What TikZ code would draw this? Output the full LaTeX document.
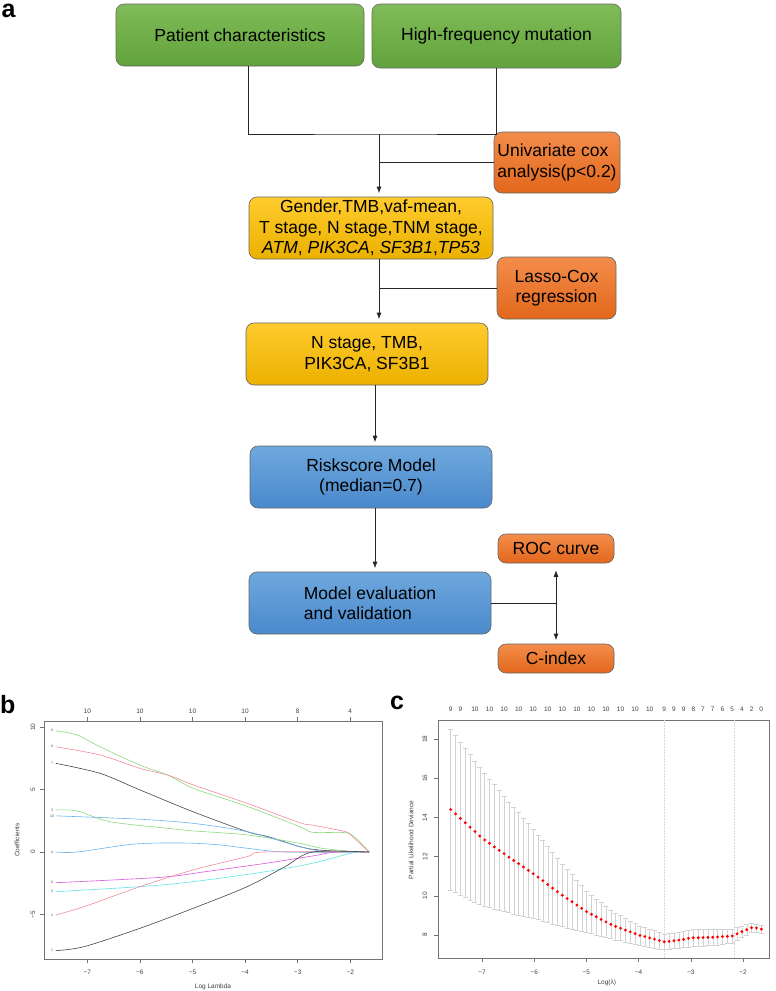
\documentclass[tikz,border=0pt]{standalone}
\usepackage{fontspec}
\setmainfont{Liberation Sans}
\usetikzlibrary{arrows.meta}

\definecolor{grnTop}{HTML}{80BC58}
\definecolor{grnBot}{HTML}{62A23C}
\definecolor{orgTop}{HTML}{F38D4A}
\definecolor{orgBot}{HTML}{E2671C}
\definecolor{ylwTop}{HTML}{FFCB2E}
\definecolor{ylwBot}{HTML}{EBB100}
\definecolor{bluTop}{HTML}{6EA8DD}
\definecolor{bluBot}{HTML}{4A89CC}
\definecolor{cgreen}{HTML}{8CD97C}
\definecolor{cred}{HTML}{F08C9A}
\definecolor{cblack}{HTML}{444444}
\definecolor{cblue}{HTML}{6AB4F0}
\definecolor{cmag}{HTML}{DD55DD}
\definecolor{ccyan}{HTML}{5EE6E6}

\newcommand\boxfont{\fontsize{17.5}{20.5}\selectfont}
\newcommand\plotfont{\fontsize{6.5}{7.5}\selectfont}

\begin{document}
\begin{tikzpicture}[x=1pt, y=-1pt,
    box/.style={draw=black!60, line width=0.6pt, rounded corners=8pt,
        font=\boxfont, inner sep=0pt, align=center},
    greenbox/.style={box, top color=grnTop, bottom color=grnBot},
    orangebox/.style={box, top color=orgTop, bottom color=orgBot},
    yellowbox/.style={box, top color=ylwTop, bottom color=ylwBot},
    bluebox/.style={box, top color=bluTop, bottom color=bluBot},
    link/.style={line width=0.8pt, black!85},
    flow/.style={link, -{Latex[length=6.5pt,width=5pt]}, shorten >=3.5pt},
    panel/.style={font=\bfseries\fontsize{25}{25}\selectfont, inner sep=0pt},
    frame/.style={black!55, line width=0.5pt},
    axlbl/.style={text=black!75, inner sep=0pt},
    curve/.style={line width=0.6pt},
    curvelbl/.style={font=\fontsize{3.5}{4}\selectfont, text=black!70, inner sep=0pt},
    errbar/.style={gray!35, line width=0.4pt}
]
\useasboundingbox (0,0) rectangle (776,991);

% panel a: flow chart
\node[panel, anchor=base west] (lbla) at (1.5,17) {a};

\node[greenbox, minimum width=248pt, minimum height=62pt] (pc) at (240,35) {Patient characteristics};
\node[greenbox, minimum width=249pt, minimum height=64pt] (hf) at (496.5,36) {High-frequency mutation};
\node[orangebox, minimum width=126pt, minimum height=61pt, align=left] (uni) at (557,162.5)
    {Univariate cox\\analysis(p<0.2)};
\node[yellowbox, minimum width=244pt, minimum height=62pt] (gender) at (371,228)
    {Gender,TMB,vaf-mean,\\T stage, N stage,TNM stage,\\\textit{ATM}, \textit{PIK3CA}, \textit{SF3B1},\textit{TP53}};
\node[orangebox, minimum width=119pt, minimum height=62pt] (lasso) at (556.5,288) {Lasso-Cox\\regression};
\node[yellowbox, minimum width=242pt, minimum height=62pt] (nst) at (367,354) {N stage, TMB,\\PIK3CA, SF3B1};
\node[bluebox, minimum width=242pt, minimum height=62pt] (risk) at (371,477) {Riskscore Model\\(median=0.7)};
\node[orangebox, minimum width=116pt, minimum height=29pt] (roc) at (556,548.5) {ROC curve};
\node[bluebox, minimum width=242pt, minimum height=62pt, align=left] (model) at (370,603)
    {Model evaluation\\and validation};
\node[orangebox, minimum width=116pt, minimum height=29pt] (cidx) at (556,658.5) {C-index};

\coordinate (merge) at (379,134);
\coordinate (trunk) at (375,0);
\coordinate (split) at (roc.south |- model.east);
\draw[link] ([xshift=8pt]pc.south) |- (merge) -| (hf.south);
\draw[flow] (merge) -- (merge |- gender.north);
\draw[link] (uni.west) -- (uni.west -| merge);
\draw[flow] (gender.south -| merge) -- (merge |- nst.north);
\draw[link] (lasso.west) -- (lasso.west -| merge);
\draw[flow] (nst.south -| trunk) -- (trunk |- risk.north);
\draw[flow] (risk.south -| trunk) -- (trunk |- model.north);
\draw[link] (model.east) -- (split);
\draw[flow, shorten >=7pt] (split) -- (roc.south);
\draw[flow] (split) -- (cidx.north);

% panel b: coefficient paths
\node[panel, anchor=base west] (lblb) at (0,713) {b};
\begin{scope}[shift={(455.5,852)}, x=52.6pt, y=12.47pt, font=\plotfont]
    \draw[frame] (-7.823,-8.58) rectangle (-1.397,10.5);
    \foreach \t in {7,...,2} {
        \draw[frame] (-\t,-8.58) -- ++(0,-4pt);
        \node[axlbl] at ([yshift=-13pt]-\t,-8.58) {−\t};
    }
    \foreach \t/\n in {7/10,6/10,5/10,4/10,3/8,2/4} {
        \draw[frame] (-\t,10.5) -- ++(0,4pt);
        \node[axlbl] at ([yshift=10pt]-\t,10.5) {\n};
    }
    \foreach \v/\s in {-5/−5,0/0,5/5,10/10} {
        \draw[frame] (-7.823,\v) -- ++(-4pt,0);
        \node[axlbl, rotate=90] at ([xshift=-11pt]-7.823,\v) {\s};
    }
    \node[axlbl, rotate=90] (ylabb) at ([xshift=-27pt]-7.823,0.96) {Coefficients};
    \node[axlbl] (xlabb) at ([yshift=-28pt]-4.61,-8.58) {Log Lambda};

    \draw[curve, cgreen] plot[smooth, tension=0.5] coordinates {(-7.6,9.73) (-7.19,9.38) (-6.76,8.44) (-6.0,6.97)
        (-5.47,6.17) (-4.98,5.1) (-3.96,3.66) (-2.96,2.03) (-2.72,1.58) (-2.09,1.55) (-1.89,1.1) (-1.64,0)};
    \draw[curve, cred] plot[smooth, tension=0.5] coordinates {(-7.6,8.44) (-6.76,7.78) (-6.0,6.71) (-5.47,6.17)
        (-4.98,5.37) (-3.96,3.9) (-2.96,2.35) (-2.72,2.16) (-2.09,1.63) (-1.96,1.23) (-1.64,0)};
    \draw[curve, cblack] plot[smooth, tension=0.5] coordinates {(-7.6,7.11) (-6.76,6.31) (-6.0,4.98) (-4.99,3.23)
        (-3.96,1.63) (-3.56,1.23) (-2.96,0.43) (-2.6,0.16) (-1.96,0.02) (-1.64,0)};
    \draw[curve, cgreen] plot[smooth, tension=0.5] coordinates {(-7.6,3.37) (-7.19,3.29) (-6.57,2.43) (-5.47,1.9)
        (-4.98,1.69) (-3.96,1.37) (-2.96,0.7) (-2.54,0.3) (-1.89,0.02) (-1.64,0)};
    \draw[curve, cblue] plot[smooth, tension=0.5] coordinates {(-7.6,2.9) (-6.0,2.63) (-4.99,2.3) (-3.96,1.63)
        (-2.96,0.43) (-2.6,0.1) (-2.3,0) (-1.64,0)};
    \draw[curve, cblue] plot[smooth, tension=0.5] coordinates {(-7.6,0) (-7.19,0) (-6.1,0.64) (-5.17,0.72)
        (-4.53,0.59) (-3.96,0.3) (-3.23,0) (-1.64,0)};
    \draw[curve, cmag] plot[smooth, tension=0.5] coordinates {(-7.6,-2.46) (-5.6,-2.03) (-4.74,-1.57) (-3.6,-0.9)
        (-2.72,-0.32) (-2.28,0) (-1.64,0)};
    \draw[curve, ccyan] plot[smooth, tension=0.5] coordinates {(-7.6,-3.18) (-6.0,-2.78) (-4.99,-2.38) (-3.6,-1.57)
        (-2.72,-0.9) (-1.89,0) (-1.64,0)};
    \draw[curve, cred] plot[smooth, tension=0.5] coordinates {(-7.6,-5.05) (-7.06,-4.38) (-6.0,-2.78) (-4.99,-1.44)
        (-3.96,-0.37) (-3.65,0) (-1.64,0)};
    \draw[curve, cblack] plot[smooth, tension=0.5] coordinates {(-7.6,-7.91) (-7.06,-7.59) (-6.0,-6.12) (-4.99,-4.52)
        (-3.96,-2.78) (-3.24,-1.17) (-2.72,0) (-1.64,0)};
    \foreach \c/\n in {9.73/9,8.44/8,7.11/7,3.37/3,2.9/10,0/4,-2.46/6,-3.18/5,-5.05/2,-7.91/1}
        \node[curvelbl] at (-7.67,\c) {\n};
\end{scope}

% panel c: cross-validation curve
\node[panel, anchor=base west] (lblc) at (390,709) {c};
\begin{scope}[shift={(847.4,1091.8)}, x=52.2pt, y=19.6pt, font=\plotfont]
    \draw[frame] (-7.843,6.83) rectangle (-1.506,18.97);
    \draw[gray!30, densely dotted, line width=0.5pt] (-3.5,6.83) -- (-3.5,18.97);
    \draw[gray!30, densely dotted, line width=0.5pt] (-2.17,6.83) -- (-2.17,18.97);
    \foreach \t in {7,...,2} {
        \draw[frame] (-\t,6.83) -- ++(0,-4pt);
        \node[axlbl] at ([yshift=-14pt]-\t,6.83) {−\t};
    }
    \foreach \v in {8,10,...,18} {
        \draw[frame] (-7.843,\v) -- ++(-4pt,0);
        \node[axlbl, rotate=90] at ([xshift=-13pt]-7.843,\v) {\v};
    }
    \node[axlbl, rotate=90] (ylabc) at ([xshift=-27pt]-7.843,12.85) {Partial Likelihood Deviance};
    \node[axlbl] (xlabc) at ([yshift=-25pt]-4.61,6.83) {Log(λ)};
    \foreach \i/\n in {0/9,2/9,5/10,8/10,11/10,14/10,17/10,20/10,23/10,26/10,29/10,32/10,35/10,
        38/10,41/10,44/9,46/9,48/9,50/8,52/7,54/7,56/6,58/5,60/4,62/2,64/0}
        \node[axlbl] at ({-7.6+0.09297*\i},19.53) {\n};

    \foreach \dev/\err [count=\i from 0] in {14.40/4.10,14.18/4.00,13.95/3.90,13.73/3.80,13.50/3.70,
        13.28/3.60,13.05/3.50,12.85/3.39,12.68/3.28,12.50/3.17,12.32/3.05,12.15/2.94,11.97/2.83,
        11.80/2.72,11.64/2.61,11.47/2.50,11.30/2.38,11.13/2.27,10.95/2.16,10.77/2.05,10.58/1.94,
        10.39/1.83,10.21/1.71,10.03/1.60,9.86/1.49,9.70/1.38,9.53/1.27,9.36/1.16,9.19/1.05,
        9.06/0.98,8.93/0.92,8.80/0.85,8.67/0.79,8.54/0.72,8.44/0.68,8.35/0.64,8.25/0.60,
        8.16/0.56,8.07/0.53,7.98/0.49,7.92/0.48,7.85/0.46,7.79/0.44,7.72/0.42,7.66/0.40,
        7.68/0.40,7.71/0.40,7.74/0.40,7.78/0.42,7.83/0.44,7.86/0.45,7.86/0.44,7.87/0.43,
        7.88/0.42,7.89/0.41,7.90/0.40,7.92/0.38,7.93/0.37,7.95/0.35,8.06/0.33,8.17/0.30,
        8.27/0.26,8.37/0.22,8.36/0.20,8.30/0.20} {
        \pgfmathsetmacro\lx{-7.6+0.09297*\i}
        \draw[errbar] (\lx,{\dev-\err}) -- (\lx,{\dev+\err});
        \draw[errbar] ([xshift=-2.5pt]\lx,{\dev+\err}) -- ([xshift=2.5pt]\lx,{\dev+\err});
        \draw[errbar] ([xshift=-2.5pt]\lx,{\dev-\err}) -- ([xshift=2.5pt]\lx,{\dev-\err});
        \fill[red] (\lx,\dev) circle[radius=1.6pt];
    }
\end{scope}
\end{tikzpicture}
\end{document}
